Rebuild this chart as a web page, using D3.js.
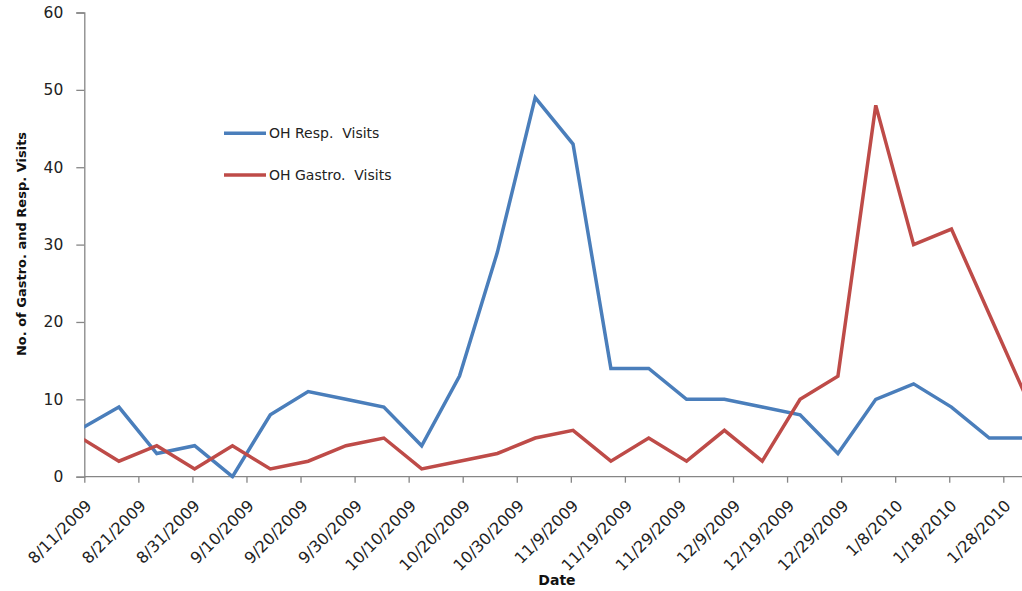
<!DOCTYPE html>
<html>
<head>
<meta charset="utf-8">
<script src="https://cdn.jsdelivr.net/npm/d3@7"></script>
<style>
  body { margin: 0; background: #fff; }
  svg { display: block; }
  .tick text { font-family: "DejaVu Sans", sans-serif; fill: #222; }
</style>
</head>
<body>
<div id="chart"></div>
<script>
var svgWidth = 1022;
var svgHeight = 591;

// weekly counts, first week 8/11/2009
var startDate = "2009-08-11";
var respVisits = [6.2, 9, 3, 4, 0, 8, 11, 10, 9, 4, 13, 29, 49, 43, 14, 14, 10, 10, 9, 8, 3, 10, 12, 9, 5, 5];
var gastroVisits = [5, 2, 4, 1, 4, 1, 2, 4, 5, 1, 2, 3, 5, 6, 2, 5, 2, 6, 2, 10, 13, 48, 30, 32, 21, 10];
var seriesNames = ["OH Resp. Visits", "OH Gastro. Visits"];
var seriesColors = ["#4a7ebb", "#be4b48"];
var yTicks = [0, 10, 20, 30, 40, 50, 60];

var parseDate = d3.timeParse("%Y-%m-%d");
var fmt = d3.timeFormat("%-m/%-d/%Y");
var t0 = parseDate(startDate);
var dates = respVisits.map((v, i) => d3.timeDay.offset(t0, i * 7));
var tickDates = d3.range(0, 18).map(i => d3.timeDay.offset(t0, i * 10));

var plotLeft = 84.3, plotBottom = 476.7, plotTop = 12.5;
var tickShift = 3.2;

var svg = d3.select("#chart")
  .append("svg")
  .attr("width", svgWidth)
  .attr("height", svgHeight);

var xScale = d3.scaleTime()
  .domain([t0, tickDates[17]])
  .range([plotLeft - tickShift, 1003.3 - tickShift]);

var yScale = d3.scaleLinear()
  .domain([0, 60])
  .range([plotBottom, plotTop]);

svg.append("clipPath")
  .attr("id", "plotclip")
  .append("rect")
  .attr("x", plotLeft)
  .attr("y", 0)
  .attr("width", svgWidth - plotLeft)
  .attr("height", plotBottom + 2);

// y axis
var yAxis = d3.axisLeft(yScale).tickValues(yTicks).tickSize(8).tickPadding(13);
var yG = svg.append("g")
  .attr("transform", `translate(${plotLeft},0)`)
  .call(yAxis);
yG.select(".domain").attr("stroke", "#868686").attr("stroke-width", 1.3);
yG.selectAll(".tick line").attr("stroke", "#868686").attr("stroke-width", 1.3);
yG.selectAll(".tick text").style("font-size", "15.5px");

// x axis
var xAxis = d3.axisBottom(xScale).tickValues(tickDates).tickSize(6).tickFormat(fmt);
var xG = svg.append("g")
  .attr("transform", `translate(${tickShift},${plotBottom})`)
  .call(xAxis);
xG.select(".domain").remove();
xG.append("line")
  .attr("x1", plotLeft - tickShift)
  .attr("x2", svgWidth)
  .attr("stroke", "#868686")
  .attr("stroke-width", 1.3);
xG.selectAll(".tick line").attr("stroke", "#868686").attr("stroke-width", 1.3);
xG.selectAll(".tick text")
  .style("font-size", "16px")
  .attr("text-anchor", "end")
  .attr("dy", null)
  .attr("y", 0)
  .attr("transform", "translate(8,30) rotate(-45)");

// lines
var line = d3.line()
  .x((d, i) => xScale(dates[i]))
  .y(d => yScale(d));

var lines = svg.append("g").attr("clip-path", "url(#plotclip)");
[respVisits, gastroVisits].forEach(function(series, k) {
  lines.append("path")
    .datum(series)
    .attr("d", line)
    .attr("fill", "none")
    .attr("stroke", seriesColors[k])
    .attr("stroke-width", 3.5)
    .attr("stroke-linejoin", "miter");
});

// legend
var legend = svg.append("g");
seriesNames.forEach(function(name, k) {
  var y = 133.3 + k * 41.7;
  legend.append("line")
    .attr("x1", 224).attr("x2", 266)
    .attr("y1", y).attr("y2", y)
    .attr("stroke", seriesColors[k])
    .attr("stroke-width", 3.5);
  legend.append("text")
    .attr("x", 269)
    .attr("y", y + 5)
    .attr("font-family", "DejaVu Sans, sans-serif")
    .attr("font-size", "14px")
    .attr("fill", "#222")
    .attr("xml:space", "preserve")
    .text(name.replace(". ", ".  "));
});

// axis titles
svg.append("text")
  .attr("transform", `translate(26,${244}) rotate(-90)`)
  .attr("text-anchor", "middle")
  .attr("font-family", "DejaVu Sans, sans-serif")
  .attr("font-weight", "bold")
  .attr("font-size", "13px")
  .attr("fill", "#111")
  .text("No. of Gastro. and Resp. Visits");

svg.append("text")
  .attr("x", 557)
  .attr("y", 585)
  .attr("text-anchor", "middle")
  .attr("font-family", "DejaVu Sans, sans-serif")
  .attr("font-weight", "bold")
  .attr("font-size", "14px")
  .attr("fill", "#111")
  .text("Date");
</script>
</body>
</html>
